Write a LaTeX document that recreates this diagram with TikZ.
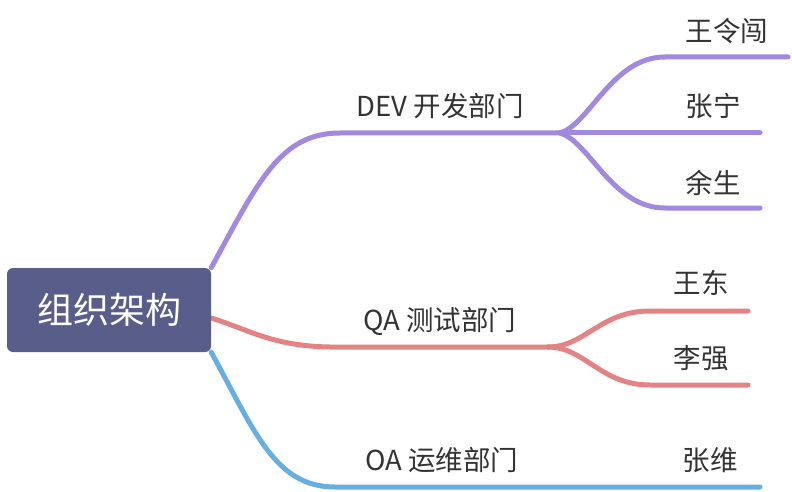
\documentclass[tikz,border=0pt]{standalone}
\usepackage{fontspec}
\setmainfont{Noto Sans CJK SC}
\usetikzlibrary{positioning,backgrounds}
\definecolor{MapRoot}{HTML}{585E89}
\definecolor{MapPurple}{HTML}{A389DD}
\definecolor{MapRed}{HTML}{E48383}
\definecolor{MapBlue}{HTML}{67AEE1}
\definecolor{MapText}{HTML}{333333}

\begin{document}
\begin{tikzpicture}[x=1pt, y=-1pt, every node/.style={font=\fontsize{27.5}{32}\selectfont, text=MapText, inner sep=0pt}, root/.style={fill=MapRoot, rounded corners=6pt, minimum width=204pt, minimum height=84pt, text=white, font=\fontsize{36}{42}\selectfont}, br/.style={line width=5pt, line cap=round}, dev/.style={br,MapPurple}, qa/.style={br,MapRed}, oa/.style={br,MapBlue}]
\useasboundingbox (0,0) rectangle (792,492);
\node[root] (r) at (109,310) {组织架构};
% department labels
\node (dev) at (440,106) {DEV 开发部门};
\node (qa) at (440,321) {QA 测试部门};
\node (oa) at (442,460) {OA 运维部门};
% people
\node (p1) at (727,31) {王令闯};
\node (p2) at (713,106) {张宁};
\node (p3) at (713,183) {余生};
\node (p4) at (701,283) {王东};
\node (p5) at (701,358) {李强};
\node (p6) at (710,460) {张维};
% fork points and line ends
\coordinate (devF) at (560,133);
\coordinate (qaF) at (548,347);
\coordinate (e1) at (788,57);
\coordinate (e2) at (760,133);
\coordinate (e3) at (760,208);
\coordinate (e4) at (748,311);
\coordinate (e5) at (748,385);
\coordinate (e6) at (760,487);
\begin{scope}[on background layer]
\draw[dev] (r.north east) .. controls (258,182) and (280,133) .. (340,133) -- (devF);
\draw[qa] ([yshift=-8pt]r.east) .. controls (250,330) and (272,346) .. (330,347) -- (qaF);
\draw[oa] (r.south east) .. controls (255,432) and (275,487) .. (335,487) -- (e6);
\end{scope}
\draw[dev] (devF) .. controls (590,124) and (612,57) .. (665,57) -- (e1);
\draw[dev] (devF) -- (e2);
\draw[dev] (devF) .. controls (590,142) and (612,208) .. (665,208) -- (e3);
\draw[qa] (qaF) .. controls (585,347) and (600,311) .. (650,311) -- (e4);
\draw[qa] (qaF) .. controls (585,347) and (600,385) .. (650,385) -- (e5);
\end{tikzpicture}
\end{document}
